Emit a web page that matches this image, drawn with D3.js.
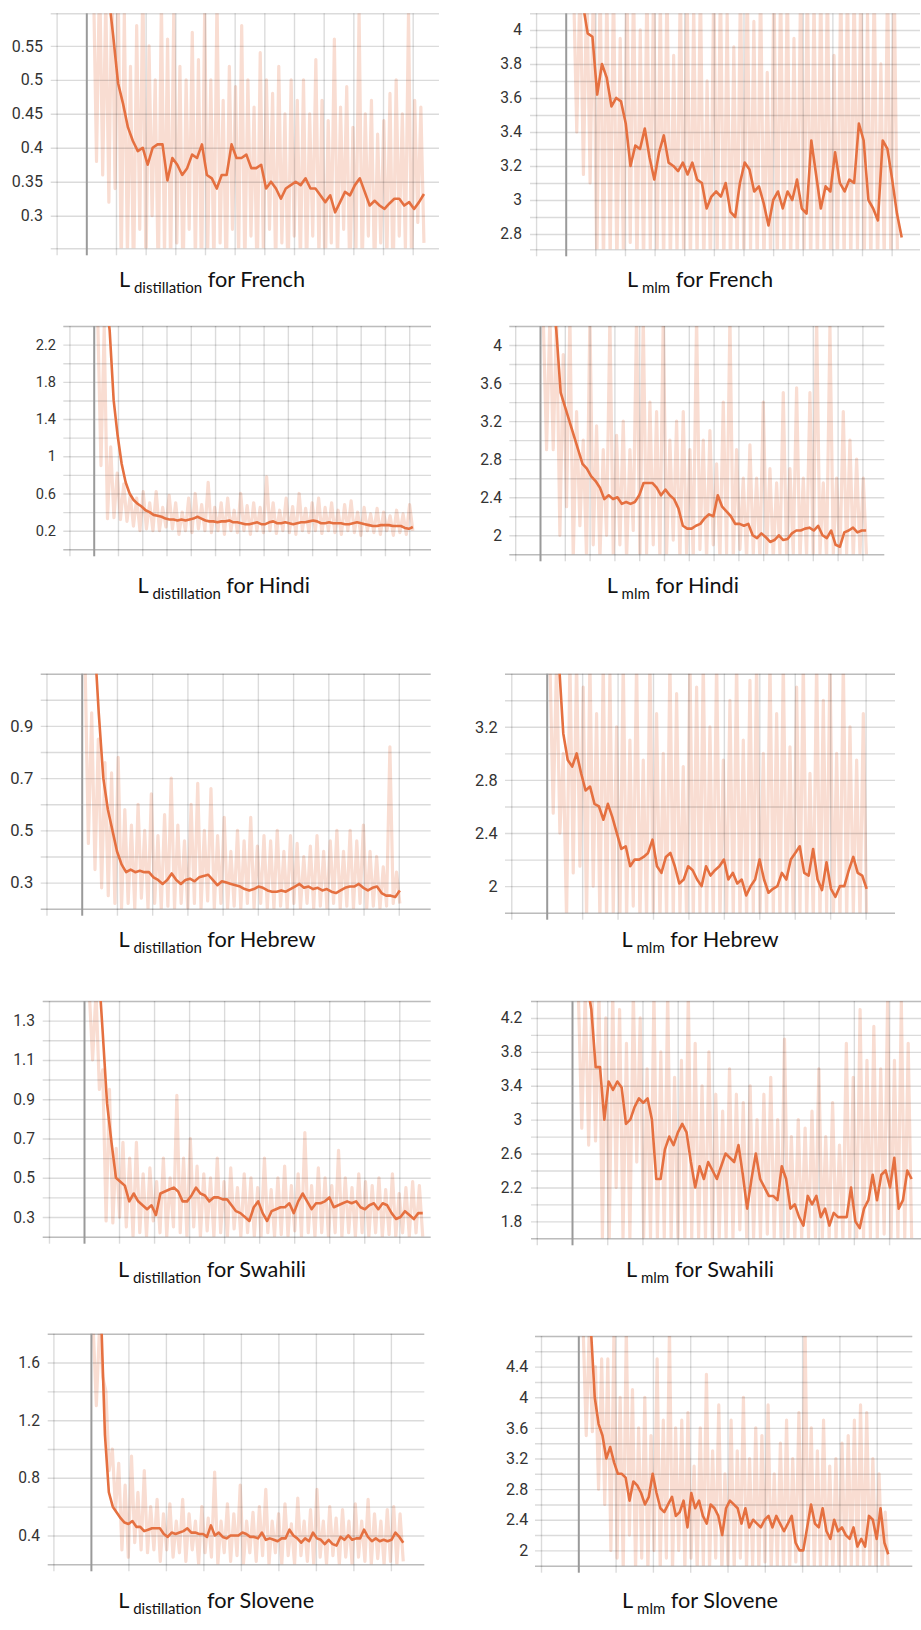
<!DOCTYPE html>
<html>
<head>
<meta charset="utf-8">
<script src="https://cdn.jsdelivr.net/npm/d3@7"></script>
<style>
  body { margin: 0; background: #fff; }
  svg { display: block; }
</style>
</head>
<body>
<div id="chart"></div>
<script>
// Loss curves: smoothed (dark) and raw (light) values per run

const frDistSmooth = [0.9, 0.8, 0.7, 0.63, 0.565, 0.495, 0.465, 0.43, 0.41, 0.395, 0.4, 0.375, 0.4, 0.405, 0.405, 0.352, 0.385, 0.375, 0.36, 0.37, 0.39, 0.385, 0.405, 0.36, 0.355, 0.34, 0.36, 0.36, 0.405, 0.385, 0.385, 0.39, 0.37, 0.37, 0.375, 0.34, 0.35, 0.34, 0.325, 0.34, 0.345, 0.35, 0.345, 0.355, 0.34, 0.34, 0.33, 0.32, 0.33, 0.305, 0.32, 0.335, 0.33, 0.345, 0.355, 0.335, 0.315, 0.322, 0.315, 0.31, 0.318, 0.325, 0.325, 0.315, 0.32, 0.31, 0.32, 0.332];
const frDistRaw = [0.65, 0.38, 0.66, 0.36, 0.62, 0.32, 0.66, 0.34, 0.65, 0.22, 0.6, 0.24, 0.52, 0.2, 0.58, 0.28, 0.65, 0.22, 0.55, 0.3, 0.5, 0.2, 0.62, 0.24, 0.56, 0.22, 0.6, 0.26, 0.52, 0.2, 0.5, 0.28, 0.57, 0.23, 0.53, 0.2, 0.6, 0.25, 0.5, 0.22, 0.62, 0.26, 0.47, 0.2, 0.52, 0.28, 0.49, 0.24, 0.58, 0.22, 0.5, 0.27, 0.46, 0.2, 0.54, 0.25, 0.5, 0.28, 0.48, 0.22, 0.52, 0.26, 0.45, 0.2, 0.5, 0.27, 0.47, 0.23, 0.5, 0.22, 0.45, 0.27, 0.53, 0.24, 0.47, 0.2, 0.44, 0.26, 0.56, 0.23, 0.46, 0.28, 0.49, 0.2, 0.43, 0.25, 0.6, 0.22, 0.45, 0.27, 0.47, 0.21, 0.42, 0.26, 0.44, 0.24, 0.48, 0.2, 0.5, 0.27, 0.45, 0.25, 0.6, 0.22, 0.47, 0.29, 0.46, 0.26];
const frDistTicks = [0.3, 0.35, 0.4, 0.45, 0.5, 0.55];

const frMlmSmooth = [4.4, 4.3, 4.15, 3.98, 3.96, 3.62, 3.8, 3.72, 3.55, 3.6, 3.58, 3.45, 3.2, 3.32, 3.3, 3.42, 3.25, 3.12, 3.28, 3.38, 3.22, 3.2, 3.17, 3.22, 3.15, 3.22, 3.12, 3.1, 2.95, 3.02, 3.05, 3.02, 3.1, 2.93, 2.9, 3.1, 3.22, 3.18, 3.05, 3.08, 2.98, 2.85, 3.0, 3.05, 2.95, 3.05, 3.0, 3.12, 2.95, 2.92, 3.35, 3.15, 2.95, 3.08, 3.05, 3.28, 3.1, 3.05, 3.12, 3.1, 3.45, 3.35, 3.0, 2.95, 2.88, 3.35, 3.3, 3.12, 2.92, 2.78];
const frMlmRaw = [4.3, 3.4, 4.3, 3.15, 4.3, 3.1, 4.3, 2.6, 4.3, 2.6, 4.25, 2.65, 4.3, 2.6, 3.95, 2.62, 4.3, 2.75, 4.3, 2.6, 4.0, 2.6, 4.3, 2.7, 4.3, 2.62, 4.2, 2.6, 4.3, 2.6, 3.85, 2.68, 4.3, 2.6, 4.3, 2.6, 4.15, 2.65, 4.3, 2.6, 3.7, 2.6, 4.3, 2.66, 4.3, 2.6, 4.1, 2.6, 3.9, 2.62, 4.3, 2.6, 4.3, 2.7, 4.05, 2.6, 4.3, 2.6, 3.75, 2.65, 4.3, 2.6, 4.3, 2.6, 4.3, 2.62, 3.95, 2.6, 4.3, 2.68, 4.3, 2.6, 4.2, 2.6, 4.3, 2.65, 4.3, 2.6, 3.85, 2.6, 4.3, 2.62, 4.3, 2.6, 4.3, 2.7, 4.3, 2.6, 4.1, 2.6, 4.3, 2.6, 3.8, 2.65, 4.3, 2.6, 4.3, 2.6];
const frMlmTicks = [2.8, 3, 3.2, 3.4, 3.6, 3.8, 4];

const hiDistSmooth = [4.5, 3.4, 2.75, 2.35, 1.6, 1.22, 0.92, 0.72, 0.6, 0.53, 0.49, 0.46, 0.42, 0.4, 0.37, 0.36, 0.35, 0.33, 0.32, 0.32, 0.31, 0.32, 0.31, 0.32, 0.33, 0.35, 0.33, 0.31, 0.3, 0.3, 0.29, 0.3, 0.3, 0.31, 0.29, 0.29, 0.28, 0.27, 0.27, 0.28, 0.29, 0.27, 0.27, 0.29, 0.3, 0.28, 0.28, 0.29, 0.28, 0.27, 0.28, 0.29, 0.29, 0.3, 0.31, 0.3, 0.28, 0.28, 0.29, 0.28, 0.28, 0.28, 0.27, 0.27, 0.28, 0.29, 0.28, 0.27, 0.26, 0.25, 0.25, 0.26, 0.26, 0.26, 0.25, 0.25, 0.25, 0.23, 0.22, 0.24];
const hiDistRaw = [2.5, 0.9, 2.4, 0.33, 1.1, 0.34, 0.82, 0.32, 0.7, 0.3, 0.58, 0.25, 0.55, 0.2, 0.62, 0.22, 0.5, 0.2, 0.62, 0.2, 0.45, 0.24, 0.58, 0.22, 0.5, 0.16, 0.4, 0.2, 0.55, 0.18, 0.6, 0.22, 0.48, 0.2, 0.72, 0.18, 0.45, 0.2, 0.5, 0.16, 0.55, 0.2, 0.42, 0.18, 0.6, 0.2, 0.47, 0.16, 0.5, 0.2, 0.45, 0.18, 0.78, 0.2, 0.5, 0.17, 0.42, 0.2, 0.55, 0.18, 0.46, 0.16, 0.6, 0.2, 0.44, 0.18, 0.5, 0.2, 0.55, 0.17, 0.45, 0.2, 0.5, 0.18, 0.42, 0.16, 0.48, 0.2, 0.52, 0.18, 0.4, 0.15, 0.45, 0.2, 0.38, 0.18, 0.44, 0.16, 0.4, 0.2, 0.36, 0.15, 0.42, 0.18, 0.38, 0.16, 0.48, 0.2];
const hiDistTicks = [0.2, 0.6, 1, 1.4, 1.8, 2.2];

const hiMlmSmooth = [6.0, 5.2, 4.6, 4.15, 3.5, 3.35, 3.2, 3.05, 2.9, 2.75, 2.7, 2.62, 2.57, 2.5, 2.38, 2.42, 2.38, 2.4, 2.33, 2.35, 2.33, 2.35, 2.42, 2.55, 2.55, 2.55, 2.5, 2.42, 2.48, 2.42, 2.38, 2.28, 2.1, 2.07, 2.07, 2.1, 2.12, 2.18, 2.22, 2.2, 2.42, 2.3, 2.25, 2.2, 2.12, 2.12, 2.1, 2.12, 2.0, 1.97, 2.02, 1.98, 1.93, 1.95, 2.0, 1.95, 1.96, 2.02, 2.05, 2.05, 2.07, 2.08, 2.05, 2.1, 2.0, 1.97, 2.05, 1.9, 1.88, 2.03, 2.05, 2.08, 2.03, 2.05, 2.05];
const hiMlmRaw = [4.3, 2.9, 4.3, 2.9, 4.3, 2.0, 3.9, 2.3, 4.3, 1.75, 3.3, 2.1, 3.0, 1.75, 4.3, 1.9, 3.15, 1.75, 2.9, 2.0, 4.3, 1.78, 3.05, 1.9, 3.2, 1.75, 2.9, 2.05, 4.3, 1.75, 4.3, 1.8, 3.4, 1.9, 3.3, 1.75, 4.3, 1.8, 3.0, 1.95, 3.2, 1.75, 3.3, 1.8, 2.9, 1.75, 4.3, 1.85, 3.0, 1.75, 3.1, 1.9, 2.75, 1.75, 3.4, 1.8, 4.3, 1.75, 2.9, 1.85, 2.6, 1.75, 2.95, 1.8, 2.6, 1.75, 3.4, 1.8, 2.7, 1.75, 2.55, 1.8, 3.5, 1.75, 2.7, 1.8, 3.55, 1.75, 2.6, 1.78, 3.5, 1.75, 4.3, 1.8, 2.55, 1.75, 4.2, 1.8, 2.6, 1.75, 3.3, 1.8, 3.0, 1.75, 2.8, 1.8, 2.6, 1.75];
const hiMlmTicks = [2, 2.4, 2.8, 3.2, 3.6, 4];

const heDistSmooth = [2.0, 1.6, 1.25, 0.95, 0.7, 0.58, 0.5, 0.42, 0.37, 0.34, 0.35, 0.34, 0.345, 0.34, 0.34, 0.32, 0.31, 0.295, 0.31, 0.335, 0.31, 0.295, 0.31, 0.315, 0.305, 0.32, 0.325, 0.33, 0.31, 0.29, 0.305, 0.3, 0.295, 0.29, 0.285, 0.275, 0.27, 0.275, 0.285, 0.28, 0.27, 0.265, 0.265, 0.27, 0.265, 0.275, 0.285, 0.295, 0.28, 0.285, 0.275, 0.28, 0.27, 0.275, 0.265, 0.26, 0.27, 0.28, 0.285, 0.285, 0.295, 0.28, 0.27, 0.28, 0.285, 0.26, 0.25, 0.25, 0.245, 0.27];
const heDistRaw = [1.15, 0.45, 0.95, 0.35, 0.85, 0.28, 0.76, 0.25, 0.72, 0.22, 0.78, 0.2, 0.58, 0.22, 0.52, 0.2, 0.6, 0.24, 0.5, 0.2, 0.64, 0.22, 0.48, 0.2, 0.56, 0.21, 0.7, 0.2, 0.52, 0.22, 0.46, 0.2, 0.6, 0.22, 0.68, 0.2, 0.5, 0.23, 0.66, 0.2, 0.48, 0.22, 0.55, 0.2, 0.42, 0.21, 0.5, 0.2, 0.46, 0.22, 0.55, 0.2, 0.44, 0.22, 0.48, 0.2, 0.46, 0.2, 0.5, 0.21, 0.42, 0.2, 0.48, 0.22, 0.45, 0.2, 0.4, 0.22, 0.44, 0.2, 0.48, 0.21, 0.42, 0.2, 0.46, 0.22, 0.5, 0.2, 0.42, 0.21, 0.5, 0.2, 0.46, 0.22, 0.52, 0.2, 0.42, 0.21, 0.4, 0.2, 0.36, 0.21, 0.82, 0.22, 0.34, 0.22];
const heDistTicks = [0.3, 0.5, 0.7, 0.9];

const heMlmSmooth = [4.5, 4.0, 3.7, 3.15, 2.95, 2.9, 3.0, 2.85, 2.72, 2.75, 2.62, 2.6, 2.5, 2.62, 2.52, 2.4, 2.28, 2.3, 2.15, 2.2, 2.2, 2.22, 2.25, 2.35, 2.15, 2.1, 2.22, 2.25, 2.15, 2.02, 2.05, 2.15, 2.12, 2.05, 2.0, 2.15, 2.08, 2.12, 2.15, 2.2, 2.05, 2.1, 2.02, 2.05, 1.93, 2.0, 2.05, 2.2, 2.05, 1.95, 1.98, 2.0, 2.1, 2.05, 2.2, 2.25, 2.3, 2.1, 2.08, 2.28, 2.05, 1.97, 2.18, 1.98, 1.92, 2.0, 2.0, 2.12, 2.22, 2.1, 2.08, 1.98];
const heMlmRaw = [3.7, 2.55, 3.7, 2.4, 3.0, 1.75, 3.7, 2.1, 3.7, 2.15, 3.5, 1.75, 3.7, 2.0, 3.3, 1.75, 3.7, 1.75, 3.6, 1.8, 3.2, 1.75, 3.7, 1.75, 3.1, 1.85, 3.7, 1.75, 2.95, 1.75, 3.7, 1.8, 3.3, 1.75, 3.0, 1.75, 3.7, 1.75, 3.45, 1.8, 2.9, 1.75, 3.7, 1.75, 3.5, 1.8, 3.7, 1.75, 3.2, 1.75, 3.7, 1.75, 2.95, 1.8, 3.4, 1.75, 3.7, 1.75, 3.1, 1.75, 3.55, 1.8, 3.7, 1.75, 3.0, 1.75, 3.7, 1.78, 3.3, 1.75, 3.7, 1.75, 3.05, 1.75, 3.5, 1.8, 3.7, 1.75, 2.85, 1.75, 3.7, 1.75, 3.4, 1.8, 3.7, 1.75, 3.0, 1.75, 3.7, 1.75, 3.2, 1.8, 2.95, 1.75, 3.3, 1.75];
const heMlmTicks = [2, 2.4, 2.8, 3.2];

const swDistSmooth = [2.5, 2.0, 1.6, 1.25, 0.88, 0.68, 0.5, 0.48, 0.46, 0.38, 0.42, 0.38, 0.36, 0.34, 0.36, 0.31, 0.42, 0.43, 0.44, 0.45, 0.43, 0.38, 0.38, 0.41, 0.45, 0.42, 0.41, 0.38, 0.4, 0.4, 0.39, 0.39, 0.36, 0.33, 0.32, 0.3, 0.28, 0.35, 0.38, 0.32, 0.28, 0.33, 0.34, 0.35, 0.35, 0.37, 0.32, 0.38, 0.42, 0.38, 0.34, 0.37, 0.37, 0.38, 0.4, 0.35, 0.36, 0.37, 0.38, 0.37, 0.38, 0.35, 0.34, 0.36, 0.37, 0.34, 0.37, 0.36, 0.32, 0.29, 0.3, 0.33, 0.31, 0.29, 0.32, 0.32];
const swDistRaw = [1.45, 1.1, 1.45, 0.95, 1.05, 0.28, 0.95, 0.27, 0.65, 0.3, 0.68, 0.25, 0.6, 0.2, 0.68, 0.22, 0.52, 0.2, 0.55, 0.28, 0.48, 0.22, 0.6, 0.2, 0.5, 0.25, 0.92, 0.22, 0.6, 0.2, 0.7, 0.25, 0.56, 0.2, 0.52, 0.23, 0.5, 0.2, 0.6, 0.22, 0.48, 0.2, 0.55, 0.24, 0.45, 0.2, 0.52, 0.22, 0.5, 0.2, 0.45, 0.2, 0.6, 0.22, 0.44, 0.2, 0.5, 0.21, 0.56, 0.2, 0.46, 0.23, 0.52, 0.2, 0.73, 0.22, 0.46, 0.2, 0.55, 0.22, 0.5, 0.2, 0.46, 0.22, 0.64, 0.2, 0.5, 0.22, 0.45, 0.2, 0.52, 0.22, 0.48, 0.2, 0.46, 0.22, 0.5, 0.2, 0.44, 0.21, 0.52, 0.2, 0.42, 0.22, 0.45, 0.2, 0.48, 0.22, 0.46, 0.2];
const swDistTicks = [0.3, 0.5, 0.7, 0.9, 1.1, 1.3];

const swMlmSmooth = [5.5, 5.0, 4.6, 4.3, 3.62, 3.62, 3.0, 3.45, 3.35, 3.45, 3.38, 2.95, 3.0, 3.15, 3.25, 3.2, 3.25, 3.0, 2.3, 2.3, 2.65, 2.8, 2.7, 2.85, 2.95, 2.85, 2.5, 2.2, 2.45, 2.3, 2.5, 2.4, 2.3, 2.45, 2.6, 2.55, 2.5, 2.7, 2.35, 1.95, 2.3, 2.6, 2.3, 2.2, 2.1, 2.1, 2.05, 2.45, 2.3, 1.95, 2.0, 1.85, 1.75, 2.1, 2.0, 2.1, 1.85, 1.95, 1.75, 1.9, 1.85, 1.85, 1.85, 2.2, 1.8, 1.72, 1.95, 2.05, 2.35, 2.05, 2.35, 2.4, 2.2, 2.55, 1.95, 2.05, 2.4, 2.3];
const swMlmRaw = [4.5, 2.9, 4.5, 2.7, 4.5, 2.75, 4.5, 1.6, 4.2, 1.6, 4.5, 2.2, 4.3, 1.6, 3.9, 1.6, 4.5, 2.5, 4.2, 1.6, 3.6, 1.6, 4.5, 1.6, 3.8, 1.6, 4.5, 1.6, 3.5, 1.6, 3.7, 1.6, 4.5, 1.6, 3.9, 1.6, 3.4, 1.6, 3.8, 1.6, 3.3, 1.6, 3.1, 1.6, 3.6, 1.6, 3.3, 1.7, 3.2, 1.6, 3.4, 1.6, 3.0, 1.6, 3.3, 1.65, 3.5, 1.6, 3.0, 1.6, 3.95, 1.6, 2.8, 1.6, 3.0, 1.6, 2.9, 1.6, 3.1, 1.6, 3.6, 1.6, 2.8, 1.6, 3.2, 1.6, 2.7, 1.6, 3.9, 1.6, 3.5, 1.6, 4.3, 1.6, 3.7, 1.6, 4.1, 1.6, 3.6, 1.65, 4.4, 1.6, 3.7, 1.6, 4.4, 1.6, 3.9, 1.6];
const swMlmTicks = [1.8, 2.2, 2.6, 3, 3.4, 3.8, 4.2];

const slDistSmooth = [3.5, 2.6, 1.95, 1.1, 0.7, 0.6, 0.56, 0.52, 0.49, 0.48, 0.5, 0.46, 0.46, 0.43, 0.44, 0.45, 0.45, 0.45, 0.41, 0.39, 0.42, 0.41, 0.42, 0.43, 0.45, 0.42, 0.42, 0.41, 0.41, 0.39, 0.47, 0.4, 0.42, 0.39, 0.38, 0.4, 0.4, 0.4, 0.42, 0.41, 0.39, 0.39, 0.38, 0.42, 0.37, 0.38, 0.37, 0.36, 0.38, 0.38, 0.44, 0.4, 0.38, 0.35, 0.38, 0.36, 0.42, 0.38, 0.37, 0.34, 0.37, 0.34, 0.33, 0.39, 0.37, 0.4, 0.37, 0.38, 0.38, 0.44, 0.39, 0.36, 0.38, 0.36, 0.37, 0.36, 0.37, 0.42, 0.39, 0.35];
const slDistRaw = [1.85, 1.3, 1.85, 1.5, 1.4, 0.85, 1.0, 0.58, 0.9, 0.3, 0.75, 0.25, 0.95, 0.35, 0.7, 0.3, 0.85, 0.28, 0.6, 0.3, 0.65, 0.22, 0.55, 0.3, 0.62, 0.25, 0.5, 0.28, 0.65, 0.22, 0.55, 0.3, 0.5, 0.2, 0.6, 0.28, 0.52, 0.25, 0.84, 0.2, 0.5, 0.28, 0.62, 0.22, 0.55, 0.26, 0.75, 0.2, 0.5, 0.28, 0.56, 0.22, 0.6, 0.26, 0.72, 0.2, 0.5, 0.28, 0.55, 0.2, 0.62, 0.26, 0.48, 0.2, 0.66, 0.26, 0.5, 0.22, 0.58, 0.2, 0.72, 0.25, 0.5, 0.2, 0.6, 0.26, 0.52, 0.2, 0.58, 0.25, 0.5, 0.2, 0.62, 0.25, 0.5, 0.22, 0.65, 0.2, 0.55, 0.24, 0.5, 0.2, 0.58, 0.22, 0.6, 0.2, 0.55, 0.22];
const slDistTicks = [0.4, 0.8, 1.2, 1.6];

const slMlmSmooth = [6.5, 5.6, 4.9, 4.0, 3.65, 3.5, 3.2, 3.35, 3.15, 3.0, 3.0, 2.95, 2.65, 2.9, 2.85, 2.75, 2.6, 2.7, 3.0, 2.75, 2.55, 2.5, 2.6, 2.7, 2.45, 2.5, 2.65, 2.3, 2.75, 2.55, 2.65, 2.45, 2.35, 2.6, 2.55, 2.45, 2.2, 2.55, 2.65, 2.6, 2.55, 2.35, 2.55, 2.3, 2.4, 2.35, 2.3, 2.4, 2.45, 2.3, 2.45, 2.35, 2.25, 2.35, 2.45, 2.1, 2.0, 2.0, 2.3, 2.6, 2.35, 2.3, 2.55, 2.25, 2.15, 2.4, 2.25, 2.3, 2.2, 2.15, 2.3, 2.05, 2.15, 2.05, 2.45, 2.4, 2.15, 2.55, 2.1, 1.95];
const slMlmRaw = [4.9, 3.5, 4.9, 3.55, 4.4, 2.8, 4.5, 2.6, 4.5, 2.0, 4.9, 1.9, 4.0, 1.75, 4.9, 2.2, 4.1, 1.75, 3.6, 1.9, 4.0, 1.75, 3.5, 2.0, 4.5, 1.75, 3.7, 1.9, 4.9, 1.75, 3.6, 2.0, 3.7, 1.75, 3.8, 1.9, 3.1, 1.75, 3.6, 1.8, 4.3, 1.75, 3.3, 1.9, 3.9, 1.75, 3.0, 1.8, 3.7, 1.75, 3.3, 1.9, 4.0, 1.75, 3.2, 1.8, 3.6, 1.75, 3.5, 1.85, 3.9, 1.75, 3.0, 1.8, 3.4, 1.75, 3.7, 1.75, 3.2, 1.85, 3.8, 1.75, 4.9, 1.8, 3.6, 1.75, 3.3, 1.75, 3.7, 1.8, 3.1, 1.75, 3.2, 1.8, 3.4, 1.75, 3.5, 1.8, 3.7, 1.75, 3.9, 1.75, 3.8, 1.8, 3.2, 1.75, 3.0, 1.8, 2.5, 1.75];
const slMlmTicks = [2, 2.4, 2.8, 3.2, 3.6, 4, 4.4];

// panel layout: plot box in page px, domains, step span of each run, title anchor
const panels = [
  { sub: "distillation", lang: "French", smooth: frDistSmooth, raw: frDistRaw, ticks: frDistTicks,
    yDomain: [0.252, 0.598], grid: 0.05, steps: [0.24, 11.38], rawSteps: [0.24, 11.38], xDomain: [-1.2, 11.887],
    box: { left: 50.7, right: 439, top: 13.3, bottom: 248.3 }, labelX: 43, fs: 16, title: [212, 287.3] },
  { sub: "mlm", lang: "French", smooth: frMlmSmooth, raw: frMlmRaw, ticks: frMlmTicks,
    yDomain: [2.71, 4.098], grid: 0.1, steps: [0.26, 11.34], rawSteps: [0.26, 11.2], xDomain: [-1.205, 11.957],
    box: { left: 530, right: 920, top: 13.3, bottom: 249.3 }, labelX: 522, fs: 15.6, title: [700, 287.3] },
  { sub: "distillation", lang: "Hindi", smooth: hiDistSmooth, raw: hiDistRaw, ticks: hiDistTicks,
    yDomain: [0, 2.4], grid: 0.2, steps: [0.165, 13.15], rawSteps: [0.165, 13.15], xDomain: [-1.253, 13.898],
    box: { left: 63.3, right: 431, top: 326, bottom: 549.3 }, labelX: 56, fs: 14.6, title: [223.7, 593.3] },
  { sub: "mlm", lang: "Hindi", smooth: hiMlmSmooth, raw: hiMlmRaw, ticks: hiMlmTicks,
    yDomain: [1.8, 4.2], grid: 0.2, steps: [0.13, 13.15], rawSteps: [0.13, 13.17], xDomain: [-1.238, 13.883],
    box: { left: 509.3, right: 884.3, top: 326, bottom: 554.3 }, labelX: 502, fs: 15.6, title: [672.8, 593.3] },
  { sub: "distillation", lang: "Hebrew", smooth: heDistSmooth, raw: heDistRaw, ticks: heDistTicks,
    yDomain: [0.2, 1.1], grid: 0.1, steps: [0.095, 9.03], rawSteps: [0.095, 9.03], xDomain: [-1.164, 9.906],
    box: { left: 40.7, right: 430.7, top: 673.7, bottom: 908.7 }, labelX: 33.3, fs: 16.6, title: [217, 946.7] },
  { sub: "mlm", lang: "Hebrew", smooth: heMlmSmooth, raw: heMlmRaw, ticks: heMlmTicks,
    yDomain: [1.8, 3.6], grid: 0.2, steps: [0.09, 9.03], rawSteps: [0.09, 9.03], xDomain: [-1.177, 9.83],
    box: { left: 505, right: 895, top: 673.7, bottom: 912.7 }, labelX: 497.7, fs: 16.3, title: [700, 946.7] },
  { sub: "distillation", lang: "Swahili", smooth: swDistSmooth, raw: swDistRaw, ticks: swDistTicks,
    yDomain: [0.2, 1.4], grid: 0.1, steps: [0.15, 9.67], rawSteps: [0.15, 9.67], xDomain: [-1.179, 9.897],
    box: { left: 42.7, right: 430.7, top: 1001, bottom: 1236.7 }, labelX: 35, fs: 15.6, title: [212, 1276.7] },
  { sub: "mlm", lang: "Swahili", smooth: swMlmSmooth, raw: swMlmRaw, ticks: swMlmTicks,
    yDomain: [1.6, 4.4], grid: 0.2, steps: [0.18, 9.64], rawSteps: [0.18, 9.64], xDomain: [-1.164, 9.906],
    box: { left: 531, right: 921, top: 1001, bottom: 1238.3 }, labelX: 522.3, fs: 15.6, title: [700, 1276.7] },
  { sub: "distillation", lang: "Slovene", smooth: slDistSmooth, raw: slDistRaw, ticks: slDistTicks,
    yDomain: [0.2, 1.8], grid: 0.2, steps: [0.06, 8.33], rawSteps: [0.06, 8.33], xDomain: [-1.152, 8.891],
    box: { left: 47.7, right: 424.3, top: 1333.7, bottom: 1564.3 }, labelX: 40, fs: 15.6, title: [216.2, 1608.3] },
  { sub: "mlm", lang: "Slovene", smooth: slMlmSmooth, raw: slMlmRaw, ticks: slMlmTicks,
    yDomain: [1.8, 4.8], grid: 0.2, steps: [0.13, 8.31], rawSteps: [0.13, 8.31], xDomain: [-1.161, 8.954],
    box: { left: 535, right: 912.3, top: 1336, bottom: 1565.7 }, labelX: 528.3, fs: 16, title: [700, 1608.3] }
];

const width = 921, height = 1630;
const rawColor = "#f9ddd2", lineColor = "#e57040";

let svg = d3.select("#chart")
    .append("svg")
    .attr("width", width)
    .attr("height", height)
    .attr("viewBox", [0, 0, width, height]);

// spread n samples evenly over the step span of the run
const spread = (vals, span) => vals.map((v, i) => [span[0] + i * (span[1] - span[0]) / (vals.length - 1), v]);

panels.forEach((p, k) => {
    const b = p.box;
    let x = d3.scaleLinear().domain(p.xDomain).range([b.left, b.right]);
    let y = d3.scaleLinear().domain(p.yDomain).range([b.bottom, b.top]);

    let g = svg.append("g");

    g.append("clipPath")
        .attr("id", "clip" + k)
        .append("rect")
        .attr("x", b.left).attr("y", b.top)
        .attr("width", b.right - b.left).attr("height", b.bottom - b.top);

    const line = d3.line().x(d => x(d[0])).y(d => y(d[1]));

    // raw values behind everything
    g.append("path")
        .datum(spread(p.raw, p.rawSteps))
        .attr("clip-path", `url(#clip${k})`)
        .attr("fill", "none")
        .attr("stroke", rawColor)
        .attr("stroke-width", 3.2)
        .attr("stroke-linejoin", "round")
        .attr("d", line);

    // horizontal grid lines (plus top and bottom border)
    const s = p.grid;
    let gridVals = d3.range(Math.ceil(p.yDomain[0] / s - 1e-6), Math.floor(p.yDomain[1] / s + 1e-6) + 1).map(i => i * s);
    gridVals = gridVals.concat(p.yDomain);
    g.append("g")
        .attr("transform", `translate(${b.left},0)`)
        .call(d3.axisLeft(y).tickValues(gridVals).tickSize(-(b.right - b.left)).tickFormat(""))
        .call(a => a.select(".domain").remove())
        .selectAll("line")
        .attr("stroke", "rgba(0,0,0,0.14)")
        .attr("stroke-width", 1.4);

    // vertical grid lines, running a little past the bottom as ticks
    const xs = d3.range(Math.ceil(p.xDomain[0]), Math.floor(p.xDomain[1]) + 1);
    g.append("g")
        .attr("transform", `translate(0,${b.bottom + 7})`)
        .call(d3.axisBottom(x).tickValues(xs).tickSize(-(b.bottom - b.top + 7)).tickFormat(""))
        .call(a => a.select(".domain").remove())
        .selectAll("line")
        .attr("stroke", d => d === 0 ? "#9a9a9a" : "rgba(0,0,0,0.14)")
        .attr("stroke-width", d => d === 0 ? 2 : 1.4);

    // y tick labels
    g.append("g")
        .attr("transform", `translate(${p.labelX},0)`)
        .call(d3.axisLeft(y).tickValues(p.ticks).tickSize(0).tickPadding(0).tickFormat(d3.format("~g")))
        .call(a => a.select(".domain").remove())
        .attr("font-family", "Roboto, sans-serif")
        .attr("font-size", p.fs)
        .selectAll("text")
        .attr("fill", "#333");

    // smoothed curve on top
    g.append("path")
        .datum(spread(p.smooth, p.steps))
        .attr("clip-path", `url(#clip${k})`)
        .attr("fill", "none")
        .attr("stroke", lineColor)
        .attr("stroke-width", 2.6)
        .attr("stroke-linejoin", "round")
        .attr("d", line);

    // caption: L_sub for Language
    let t = g.append("text")
        .attr("x", p.title[0])
        .attr("y", p.title[1])
        .attr("text-anchor", "middle")
        .attr("font-family", "Lato, sans-serif")
        .attr("fill", "#111");
    t.append("tspan").attr("font-size", 21.7).text("L");
    t.append("tspan").attr("font-size", 15).attr("dy", 6).text("\u00a0" + p.sub);
    t.append("tspan").attr("font-size", 21.7).attr("dy", -6).text("\u00a0for " + p.lang);
});
</script>
</body>
</html>
